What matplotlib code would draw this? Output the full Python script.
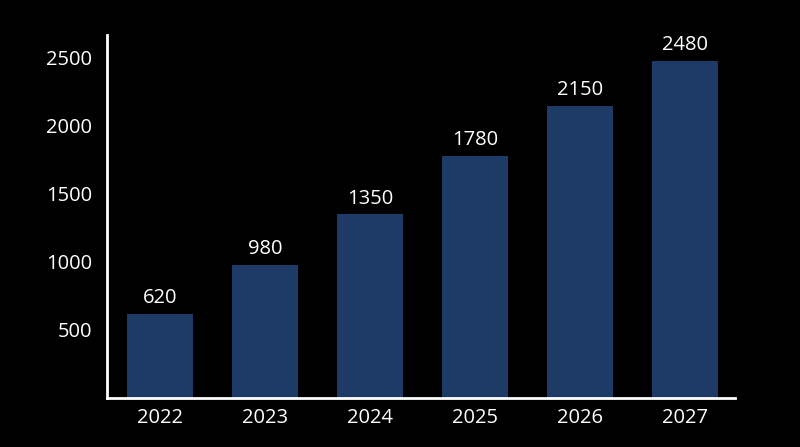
import matplotlib.pyplot as plt

# chart data
years = ["2022", "2023", "2024", "2025", "2026", "2027"]
values = [620, 980, 1350, 1780, 2150, 2480]
yTicks = [500, 1000, 1500, 2000, 2500]

barColor = "#1e3a66"

plt.rcParams["font.family"] = ["Open Sans", "DejaVu Sans"]

fig = plt.figure(figsize=(8, 4.47), dpi=100, facecolor="black")
ax = fig.add_axes([0.134, 0.110, 0.785, 0.812], facecolor="black")

positions = range(len(years))
bars = ax.bar(positions, values, width=0.63, color=barColor)

# value labels above bars
for pos, val in zip(positions, values):
  ax.text(pos, val + 40, str(val), ha="center", va="bottom",
          color="white", fontsize=14.5)

ax.set_xticks(list(positions))
ax.set_xticklabels(years)
ax.set_yticks(yTicks)
ax.set_xlim(-0.505, 5.48)
ax.set_ylim(0, 2670)

ax.tick_params(axis="both", colors="white", labelsize=14.5, length=0)
ax.tick_params(axis="x", pad=7)
ax.tick_params(axis="y", pad=11)

for side in ["top", "right"]:
  ax.spines[side].set_visible(False)
for side in ["left", "bottom"]:
  ax.spines[side].set_color("white")
  ax.spines[side].set_linewidth(2)

fig.savefig("out.png", dpi=100, facecolor="black")
